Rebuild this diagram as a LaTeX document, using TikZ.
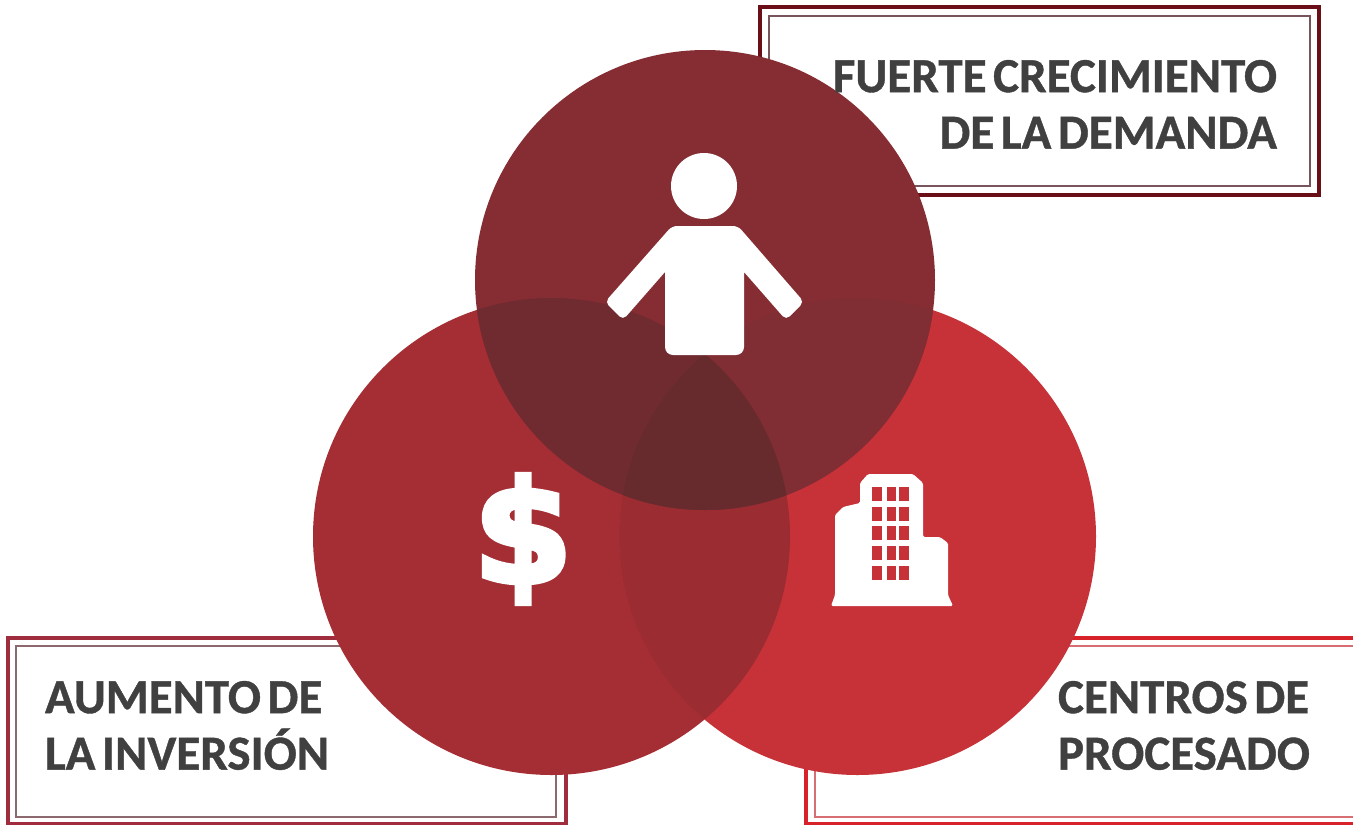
\documentclass[tikz,border=0pt]{standalone}
\usepackage{fontspec}
\setmainfont{Carlito}[WordSpace=0.6,BoldFeatures={FakeBold=0.8}]
\newfontfamily\dollarfont{DejaVu Sans}[BoldFeatures={FakeBold=4}]
\definecolor{cTop}{HTML}{852D33}
\definecolor{cLeft}{HTML}{A52E35}
\definecolor{cRight}{HTML}{C63238}
\definecolor{cTL}{HTML}{702B30}
\definecolor{cTR}{HTML}{802D33}
\definecolor{cLR}{HTML}{9A2C32}
\definecolor{cAll}{HTML}{672B2E}
\definecolor{cText}{HTML}{404040}
\definecolor{fTopO}{HTML}{6A0F18}
\definecolor{fTopI}{HTML}{78555C}
\definecolor{fLeftO}{HTML}{A02D3E}
\definecolor{fLeftI}{HTML}{8C696E}
\definecolor{fRightO}{HTML}{D8222A}
\definecolor{fRightI}{HTML}{D76E73}
\tikzset{
  lbl/.style={text=cText,font=\fontsize{49}{56.5}\selectfont\bfseries,inner sep=0pt,outer sep=0pt},
  outerT/.style={draw=#1,line width=3.4pt},
  innerT/.style={draw=#1,line width=1.8pt},
  icon/.style={fill=white,draw=none}
}
\newcommand{\cTopPath}{(705,280) circle (230)}
\newcommand{\cLeftPath}{(551.5,536.5) circle (238.5)}
\newcommand{\cRightPath}{(857.5,536.5) circle (238.5)}
\begin{document}
\begin{tikzpicture}[x=1pt,y=-1pt]
\useasboundingbox (0,0) rectangle (1353,825);
\fill[white] (0,0) rectangle (1353,825);
% frames
\draw[outerT=fTopO] (760,7) rectangle (1319,195);
\draw[innerT=fTopI] (769,16) rectangle (1310,186);
\draw[outerT=fLeftO] (8,638) rectangle (566,824);
\draw[innerT=fLeftI] (16,646) rectangle (556,817);
\draw[outerT=fRightO] (1353,638) -- (806,638) -- (806,824) -- (1353,824);
\draw[innerT=fRightI] (1353,646) -- (815,646) -- (815,817) -- (1353,817);
% circles
\fill[cLeft] \cLeftPath;
\fill[cRight] \cRightPath;
\begin{scope}\clip \cLeftPath; \fill[cLR] \cRightPath; \end{scope}
\fill[cTop] \cTopPath;
\begin{scope}\clip \cTopPath; \fill[cTL] \cLeftPath; \fill[cTR] \cRightPath;
  \clip \cLeftPath; \fill[cAll] \cRightPath; \end{scope}
% person
\fill[icon] (704,186) circle (33);
\fill[icon] (665,272) [rounded corners=5pt] -- (665,236) -- (672,226) -- (738,226) -- (804,302) -- (786,320) [sharp corners] -- (744,272) [rounded corners=8pt] -- (744,355) -- (665,355) [sharp corners] -- (665,272) [rounded corners=5pt] -- (623,320) -- (605,302) -- (672,226) [sharp corners] -- (700,226) -- cycle;
% dollar
\node[inner sep=0pt,text=white,font=\dollarfont\fontsize{142}{142}\selectfont\bfseries] (dollar) at (523,539) {\$};
% building
\fill[icon,rounded corners=1.5pt] (868,474) -- (913,474) -- (923,483) -- (923,537) -- (940,537) -- (948,543) -- (948,595) -- (953,606) -- (831,606) -- (835,595) -- (835,515) -- (843,507) -- (860,503) -- (860,483) -- cycle;
\foreach \x/\w in {872/10,887/8.5,899/10}
  \foreach \y in {487,507,526,546,566}
    \fill[cRight] (\x,\y) rectangle ++(\w,14);
% labels
\node[lbl,align=right,anchor=north east] (demanda) at (1277,60) {FUERTE CRECIMIENTO\\DE LA DEMANDA};
\node[lbl,align=left,anchor=north west] (inversion) at (45,681) {AUMENTO DE\\LA INVERSIÓN};
\node[lbl,align=left,anchor=north west] (procesado) at (1058,681) {CENTROS DE\\PROCESADO};
\end{tikzpicture}
\end{document}
